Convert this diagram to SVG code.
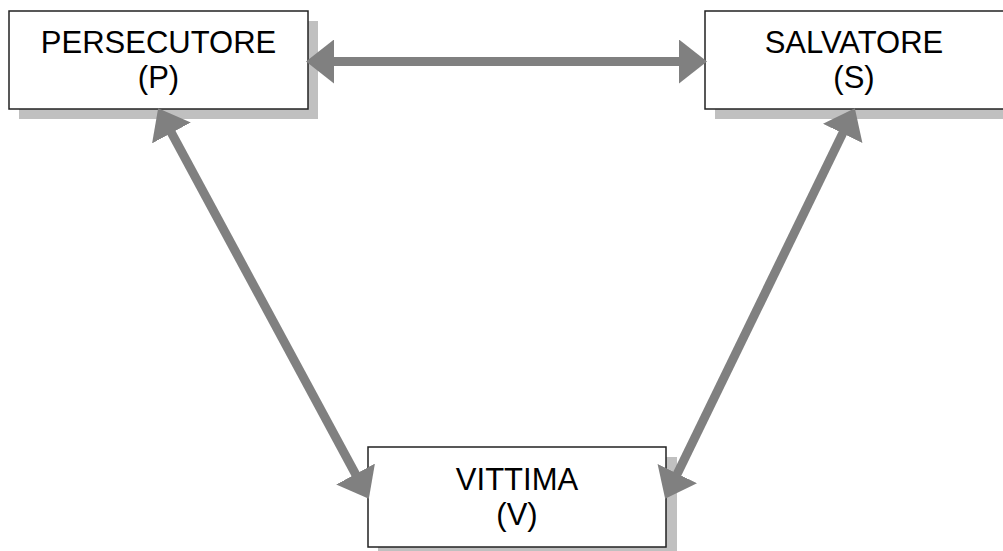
<svg xmlns="http://www.w3.org/2000/svg" width="1003" height="551" viewBox="0 0 1003 551">
  <style>
    .shadow { fill: #c0c0c0; stroke: none; }
    .box { fill: #ffffff; stroke: #222222; stroke-width: 1.5; }
    .label { font-family: "Liberation Sans", Arial, sans-serif; font-size: 31px; fill: #000000; text-anchor: middle; }
    .link { fill: none; stroke: #808080; stroke-width: 9; }
  </style>
  <defs>
    <marker id="head" markerUnits="userSpaceOnUse" viewBox="0 0 28 44" markerWidth="28" markerHeight="44" refX="2" refY="22" orient="auto-start-reverse">
      <path d="M0,0 L28,22 L0,44 z" fill="#808080"/>
    </marker>
  </defs>

  <rect width="1003" height="551" fill="#ffffff"/>

  <g id="persecutore">
    <rect class="shadow" x="19" y="21" width="299" height="98"/>
    <rect class="box" x="9" y="11" width="299" height="98"/>
    <text class="label" x="158.5" y="53">PERSECUTORE</text>
    <text class="label" x="158.5" y="88">(P)</text>
  </g>

  <g id="salvatore">
    <rect class="shadow" x="715" y="21" width="299" height="98"/>
    <rect class="box" x="705" y="11" width="299" height="98"/>
    <text class="label" x="854" y="53">SALVATORE</text>
    <text class="label" x="854" y="88">(S)</text>
  </g>

  <g id="vittima">
    <rect class="shadow" x="378" y="457" width="299" height="100"/>
    <rect class="box" x="368" y="447" width="298" height="100"/>
    <text class="label" x="517" y="490">VITTIMA</text>
    <text class="label" x="517" y="525">(V)</text>
  </g>

  <g id="connectors">
    <line class="link" x1="332" y1="61.5" x2="681" y2="61.5" marker-start="url(#head)" marker-end="url(#head)"/>
    <line class="link" x1="170.5" y1="131.2" x2="356.5" y2="475.8" marker-start="url(#head)" marker-end="url(#head)"/>
    <line class="link" x1="843.5" y1="131.6" x2="676.5" y2="475.4" marker-start="url(#head)" marker-end="url(#head)"/>
  </g>
</svg>
